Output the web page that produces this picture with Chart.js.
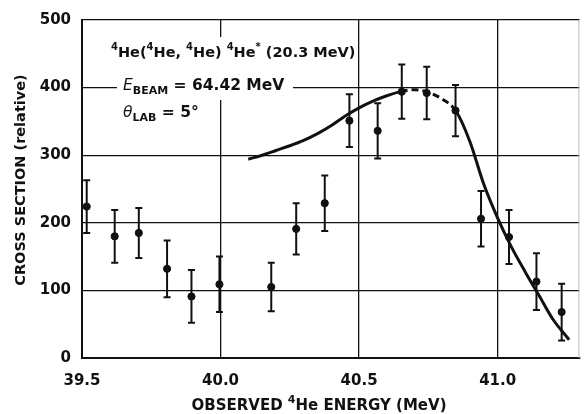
<!DOCTYPE html>
<html>
<head>
<meta charset="utf-8">
<script src="https://cdn.jsdelivr.net/npm/chart.js@4.4.0/dist/chart.umd.min.js"></script>
<style>
  html, body { margin: 0; padding: 0; background: #fff; }
  #wrap { width: 584px; height: 414px; }
</style>
</head>
<body>
<div id="wrap"><canvas id="myChart" width="584" height="414"></canvas></div>
<script>
// measured points (observed 4He energy, MeV) and cross section (relative)
var energy = [39.517, 39.618, 39.705, 39.807, 39.895, 39.996, 40.183, 40.273, 40.376,
              40.465, 40.567, 40.654, 40.744, 40.848, 40.940, 41.041, 41.140, 41.231];
var crossSection = [224, 180, 185, 132, 91, 109, 105, 191, 229,
                    351, 336, 394, 392, 366, 206, 179, 113, 68];
var errors = [39, 39, 37, 42, 39, 41, 36, 38, 41,
              39, 41, 40, 39, 38, 41, 40, 42, 42];

// fitted curve
var fitEnergy = [40.10, 40.15, 40.20, 40.25, 40.30, 40.35, 40.40, 40.45, 40.50, 40.55,
                 40.60, 40.65, 40.70, 40.75, 40.80, 40.85, 40.90, 40.95, 41.00, 41.05,
                 41.10, 41.15, 41.20, 41.258];
var fitCross = [294, 300, 307, 314, 322, 332, 344, 358, 370, 380,
                388, 394, 397, 393, 383, 365, 320, 257, 207, 164,
                127, 92, 57, 27];

var xTicks = [39.5, 40.0, 40.5, 41.0];
var yTicks = [0, 100, 200, 300, 400, 500];

var ink = '#111';
var font = '"DejaVu Sans", sans-serif';

function pts(xs, ys) {
    return xs.map(function (x, i) { return { x: x, y: ys[i] }; });
}

function partFont(kind, size) {
    if (kind == 'sup' || kind == 'sub') return 'bold ' + Math.round(size * 0.72) + 'px ' + font;
    if (kind == 'it') return 'italic ' + size + 'px ' + font;
    return 'bold ' + size + 'px ' + font;
}

// draws a run of text pieces: [text, 'n' | 'sup' | 'sub' | 'it']
function drawRich(ctx, parts, x, y, size, measureOnly) {
    var x0 = x;
    parts.forEach(function (p) {
        var dy = 0;
        if (p[1] == 'sup') dy = -size * 0.45;
        if (p[1] == 'sub') dy = size * 0.28;
        ctx.font = partFont(p[1], size);
        if (!measureOnly) ctx.fillText(p[0], x, y + dy);
        x += ctx.measureText(p[0]).width;
    });
    return x - x0;
}

var errorBars = {
    id: 'errorBars',
    afterDatasetsDraw: function (chart) {
        var ctx = chart.ctx, xs = chart.scales.x, ys = chart.scales.y;
        ctx.save();
        ctx.strokeStyle = ink;
        ctx.lineWidth = 2;
        energy.forEach(function (e, i) {
            var px = xs.getPixelForValue(e);
            var top = ys.getPixelForValue(crossSection[i] + errors[i]);
            var bot = ys.getPixelForValue(crossSection[i] - errors[i]);
            ctx.beginPath();
            ctx.moveTo(px, top); ctx.lineTo(px, bot);
            ctx.moveTo(px - 3.5, top); ctx.lineTo(px + 3.5, top);
            ctx.moveTo(px - 3.5, bot); ctx.lineTo(px + 3.5, bot);
            ctx.stroke();
        });
        ctx.restore();
    }
};

var labels = {
    id: 'labels',
    afterDraw: function (chart) {
        var ctx = chart.ctx, a = chart.chartArea;
        ctx.save();
        // faint right edge of the frame
        ctx.strokeStyle = '#bbb';
        ctx.lineWidth = 1;
        ctx.beginPath();
        ctx.moveTo(a.right - 0.5, a.top); ctx.lineTo(a.right - 0.5, a.bottom);
        ctx.stroke();

        // white boxes behind the reaction label
        ctx.fillStyle = '#fff';
        ctx.fillRect(106, 37, 251, 25);
        ctx.fillRect(117, 62, 176, 38);

        ctx.fillStyle = ink;
        ctx.textBaseline = 'alphabetic';
        ctx.textAlign = 'left';
        drawRich(ctx, [['4', 'sup'], ['He(', 'n'], ['4', 'sup'], ['He, ', 'n'], ['4', 'sup'],
                       ['He) ', 'n'], ['4', 'sup'], ['He', 'n'], ['*', 'sup'], [' (20.3 MeV)', 'n']],
                 111, 57, 14.5);
        drawRich(ctx, [['E', 'it'], ['BEAM', 'sub'], [' = 64.42 MeV', 'n']], 123, 90, 15.5);
        drawRich(ctx, [['θ', 'it'], ['LAB', 'sub'], [' = 5°', 'n']], 123, 117, 15.5);

        // axis titles
        var xt = [['OBSERVED ', 'n'], ['4', 'sup'], ['He ENERGY (MeV)', 'n']];
        var w = drawRich(ctx, xt, 0, 0, 15, true);
        drawRich(ctx, xt, 319 - w / 2, 410, 15);

        ctx.translate(25, 180);
        ctx.rotate(-Math.PI / 2);
        ctx.textAlign = 'center';
        ctx.font = 'bold 14.5px ' + font;
        ctx.fillText('CROSS SECTION (relative)', 0, 0);
        ctx.restore();
    }
};

var myChart = new Chart(document.getElementById('myChart').getContext('2d'), {
    type: 'scatter',
    data: {
        datasets: [
            {
                label: 'fit',
                data: pts(fitEnergy, fitCross),
                showLine: true,
                borderColor: ink,
                borderWidth: 3,
                pointRadius: 0,
                cubicInterpolationMode: 'monotone',
                segment: {
                    borderDash: function (c) {
                        return (c.p0.parsed.x >= 40.65 && c.p1.parsed.x <= 40.85) ? [7, 4] : undefined;
                    }
                }
            },
            {
                label: 'data',
                data: pts(energy, crossSection),
                backgroundColor: ink,
                borderColor: ink,
                pointRadius: 3.6,
                pointHoverRadius: 3.6
            }
        ]
    },
    options: {
        responsive: false,
        animation: false,
        events: [],
        layout: { padding: { left: 0, top: 17, right: 1, bottom: 0 } },
        plugins: {
            legend: { display: false },
            tooltip: { enabled: false }
        },
        scales: {
            x: {
                type: 'linear',
                min: 39.5,
                max: 41.295,
                afterBuildTicks: function (s) { s.ticks = xTicks.map(function (v) { return { value: v }; }); },
                afterFit: function (s) { s.height = 56; },
                ticks: {
                    color: ink,
                    font: { family: font, size: 15, weight: 'bold' },
                    padding: 14,
                    maxRotation: 0,
                    callback: function (v) { return v.toFixed(1); }
                },
                grid: { color: ink, lineWidth: 1.3, drawTicks: false },
                border: { display: true, color: ink, width: 2 }
            },
            y: {
                min: 0,
                max: 500,
                afterBuildTicks: function (s) { s.ticks = yTicks.map(function (v) { return { value: v }; }); },
                afterFit: function (s) { s.width = 82; },
                ticks: {
                    color: ink,
                    font: { family: font, size: 15, weight: 'bold' },
                    padding: 11
                },
                grid: { color: ink, lineWidth: 1.3, drawTicks: false },
                border: { display: true, color: ink, width: 2 }
            }
        }
    },
    plugins: [errorBars, labels]
});
</script>
</body>
</html>
